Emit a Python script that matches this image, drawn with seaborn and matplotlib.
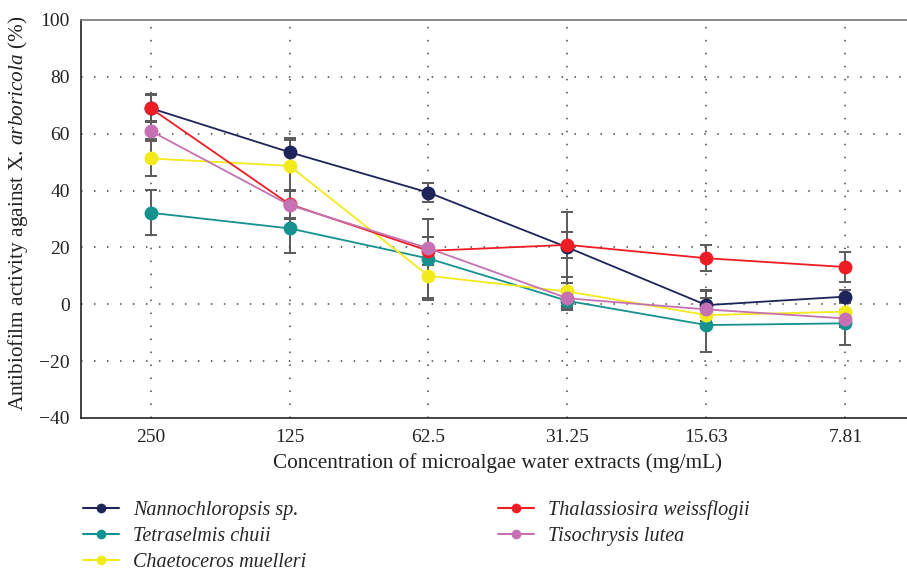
import matplotlib
matplotlib.use("Agg")
import matplotlib.pyplot as plt
import seaborn as sns
import pandas as pd
from matplotlib.lines import Line2D

concentrations = ["250", "125", "62.5", "31.25", "15.63", "7.81"]
species = ["Nannochloropsis sp.", "Tetraselmis chuii", "Chaetoceros muelleri",
           "Thalassiosira weissflogii", "Tisochrysis lutea"]
nanno = [69.0, 53.5, 39.3, 20.0, -0.3, 2.7]
nanno_err = [5.0, 5.0, 3.3, 12.5, 5.5, 2.2]
tetra = [32.2, 26.7, 16.1, 1.2, -7.3, -6.7]
tetra_err = [8.0, 8.5, 14.0, 3.3, 9.5, 7.7]
chaeto = [51.3, 48.7, 10.0, 4.5, -3.8, -2.6]
chaeto_err = [6.0, 9.0, 8.5, 5.0, 4.0, 3.0]
thalas = [69.0, 35.2, 18.8, 20.9, 16.2, 13.1]
thalas_err = [4.5, 5.0, 5.0, 4.5, 4.6, 5.2]
tiso = [61.0, 34.9, 19.7, 2.1, -1.8, -5.0]
tiso_err = [3.0, 5.0, 4.0, 3.3, 6.5, 3.0]
colors = ["#1c2459", "#15918f", "#f3ea1c", "#ee1d24", "#c671b3"]

values = [nanno, tetra, chaeto, thalas, tiso]
errors = [nanno_err, tetra_err, chaeto_err, thalas_err, tiso_err]

rows = []
for sp, vals, errs in zip(species, values, errors):
    for c, v, e in zip(concentrations, vals, errs):
        rows.append({"conc": c, "value": v, "err": e, "species": sp})
df = pd.DataFrame(rows)

sns.set_style("white")
plt.rcParams["font.family"] = ["Liberation Serif", "DejaVu Serif"]
plt.rcParams["mathtext.fontset"] = "custom"
plt.rcParams["mathtext.it"] = "Liberation Serif:italic"
plt.rcParams["mathtext.rm"] = "Liberation Serif"

fig = plt.figure(figsize=(9.07, 5.72), dpi=100)
ax = fig.add_axes([81 / 907, 1 - 418 / 572, 834 / 907, 398 / 572])

# error bars beneath
for sp, col in zip(species, colors):
    sub = df[df["species"] == sp]
    ax.errorbar(sub["conc"], sub["value"], yerr=sub["err"], fmt="none",
                ecolor="#5a5a5a", elinewidth=1.4, capsize=4, capthick=1.4, zorder=2)

sns.lineplot(data=df, x="conc", y="value", hue="species", hue_order=species,
             palette=colors, marker="o", markersize=10, markeredgewidth=0,
             linewidth=1.3, legend=False, ax=ax, zorder=3, sort=False)

ax.set_xlim(-0.5, 5.5)
ax.set_ylim(-40, 100)
ax.set_yticks(range(-40, 101, 20))
ax.set_yticklabels(["\u221240", "\u221220", "0", "20", "40", "60", "80", "100"])

# dotted grid
for y in range(-20, 100, 20):
    ax.axhline(y, color="#444444", lw=1.1, ls=(0, (1, 7.5)), zorder=1)
for i in range(len(concentrations)):
    ax.axvline(i, color="#444444", lw=1.1, ls=(0, (1, 7.5)), zorder=1)

ax.tick_params(axis="both", length=0, labelsize=14, colors="#222222", pad=8)
ax.spines["right"].set_visible(False)
ax.spines["top"].set_color("#777777")
ax.spines["left"].set_color("#222222")
ax.spines["bottom"].set_color("#222222")
for s in ["top", "left", "bottom"]:
    ax.spines[s].set_linewidth(1.2)

ax.set_xlabel("Concentration of microalgae water extracts (mg/mL)", fontsize=15.3,
              color="#222222", labelpad=5)
ax.set_ylabel(r"Antibiofilm activity against X. $\it{arboricola}$ (%)", fontsize=15.3,
              color="#222222")
ax.yaxis.set_label_coords(-0.061, 0.515)

handles = [Line2D([0], [0], color=c, lw=1.5, marker="o", markersize=7,
                  markeredgewidth=0) for c in colors]
leg = fig.legend(handles, species, loc="upper left", bbox_to_anchor=(65 / 907, 1 - 482 / 572),
                 ncol=2, frameon=False, handlelength=1.8, handletextpad=0.7,
                 columnspacing=9.5, labelspacing=0.35,
                 prop={"family": "Liberation Serif", "style": "italic", "size": 14.5})

fig.savefig("out.png", dpi=100)
